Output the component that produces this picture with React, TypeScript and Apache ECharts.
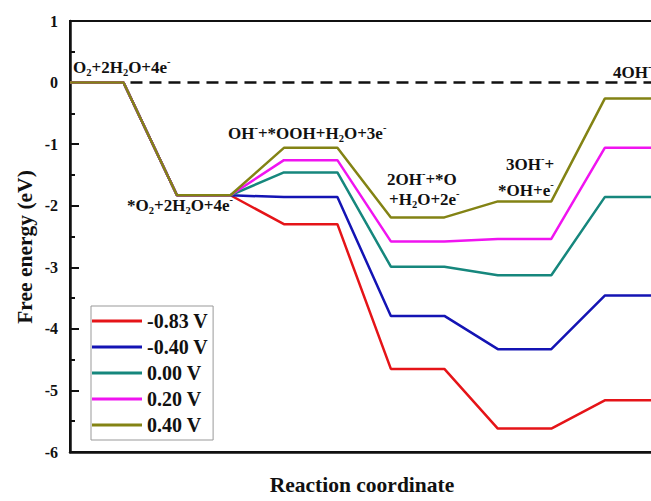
import React, { useEffect, useRef } from "react";
import * as echarts from "echarts";

// Reaction coordinate: each state is a horizontal level from levelStart to levelEnd
const levelStart = [0, 2, 4, 6, 8, 10];
const levelEnd = [1, 3, 5, 7, 9, 12];

const seriesNames = ["-0.83 V", "-0.40 V", "0.00 V", "0.20 V", "0.40 V"];
const valsM083 = [0, -1.83, -2.3, -4.65, -5.62, -5.16];
const valsM040 = [0, -1.83, -1.86, -3.79, -4.33, -3.46];
const vals000 = [0, -1.83, -1.46, -2.99, -3.13, -1.86];
const vals020 = [0, -1.83, -1.26, -2.58, -2.54, -1.06];
const vals040 = [0, -1.83, -1.06, -2.19, -1.93, -0.26];
const seriesColors = ["#e51418", "#1414b4", "#16877d", "#f014f0", "#838314"];

const zeroLine = [
  [1, 0],
  [12, 0],
];

const yTicks = { min: -6, max: 1, interval: 1 };
const yAxisTitle = "Free energy (eV)";
const xAxisTitle = "Reaction coordinate";

// State labels (rich text markup: s = subscript, p = superscript)
const stateLabels = [
  { text: "{b|O}{s|2}{b|+2H}{s|2}{b|O+4e}{p|-}", x: 73, y: 56 },
  { text: "{b|*O}{s|2}{b|+2H}{s|2}{b|O+4e}{p|-}", x: 127, y: 194 },
  { text: "{b|OH}{p|-}{b|+*OOH+H}{s|2}{b|O+3e}{p|-}", x: 228, y: 122 },
  { text: "{b|2OH}{p|-}{b|+*O}", x: 387, y: 168 },
  { text: "{b|+H}{s|2}{b|O+2e}{p|-}", x: 389, y: 188 },
  { text: "{b|3OH}{p|-}{b|+}", x: 506, y: 153 },
  { text: "{b|*OH+e}{p|-}", x: 498, y: 179 },
  { text: "{b|4OH}{p|-}", x: 613, y: 61 },
];

const FONT = "'Liberation Serif', 'Times New Roman', serif";

export default function App() {
  const ref = useRef<HTMLDivElement>(null);
  useEffect(() => {
    if (!ref.current) return;
    const chart = echarts.init(ref.current, null, { renderer: "svg" });
    const allVals = [valsM083, valsM040, vals000, vals020, vals040];
    const rich = {
      b: { fontFamily: FONT, fontWeight: "bold", fontSize: 17, lineHeight: 22, verticalAlign: "middle", fill: "#111", color: "#111" },
      s: { fontFamily: FONT, fontWeight: "bold", fontSize: 10.5, lineHeight: 10, verticalAlign: "bottom", fill: "#111", color: "#111" },
      p: { fontFamily: FONT, fontWeight: "bold", fontSize: 10.5, lineHeight: 10, verticalAlign: "top", fill: "#111", color: "#111" },
    };
    const series: any[] = allVals.map((vals, i) => ({
      name: seriesNames[i],
      type: "line",
      symbol: "none",
      color: seriesColors[i],
      lineStyle: { width: 2.5, color: seriesColors[i] },
      data: vals.flatMap((v, k) => [
        [levelStart[k], v],
        [levelEnd[k], v],
      ]),
      z: 3 + i,
    }));
    series.push({
      name: "zero",
      type: "line",
      symbol: "none",
      lineStyle: { width: 2.5, color: "#111", type: [12, 7], dashOffset: 12 },
      data: zeroLine,
      z: 2,
    });
    const graphics: any[] = stateLabels.map((l) => ({
      type: "text",
      x: l.x,
      y: l.y,
      z: 100,
      style: {
        text: l.text,
        rich,
        align: "left",
        verticalAlign: "top",
        font: `bold 17px ${FONT}`,
        fill: "#111",
      },
    }));
    graphics.push({
      type: "text",
      x: 25,
      y: 247,
      rotation: Math.PI / 2,
      z: 100,
      style: {
        text: yAxisTitle,
        align: "center",
        verticalAlign: "middle",
        font: `bold 21.5px ${FONT}`,
        fill: "#111",
      },
    });
    chart.setOption({
      animation: false,
      grid: {
        left: 70,
        top: 21,
        bottom: 44,
        right: 5,
        show: true,
        borderColor: "#111",
        borderWidth: 2,
        backgroundColor: "transparent",
      },
      xAxis: {
        type: "value",
        min: 0,
        max: 11.5,
        axisLine: { show: true, onZero: false, lineStyle: { color: "#111", width: 2.5 } },
        axisTick: { show: false },
        axisLabel: { show: false },
        splitLine: { show: false },
        name: xAxisTitle,
        nameLocation: "middle",
        nameGap: 22,
        nameTextStyle: {
          fontFamily: FONT,
          fontWeight: "bold",
          fontSize: 21.5,
          color: "#111",
          padding: [0, 31, 0, 0],
        },
      },
      yAxis: {
        type: "value",
        min: yTicks.min,
        max: yTicks.max,
        interval: yTicks.interval,
        axisLine: { show: true, lineStyle: { color: "#111", width: 2.5 } },
        axisTick: { show: true, inside: true, length: 9, lineStyle: { color: "#111", width: 2 } },
        minorTick: { show: true, splitNumber: 2, length: 5, lineStyle: { color: "#111", width: 2 } },
        axisLabel: {
          fontFamily: FONT,
          fontWeight: "bold",
          fontSize: 16,
          color: "#111",
          margin: 12,
        },
        splitLine: { show: false },
      },
      legend: {
        data: seriesNames,
        orient: "vertical",
        left: 91,
        top: 306,
        padding: [5, 5, 5, 1],
        itemWidth: 50,
        itemHeight: 3,
        itemGap: 6,
        icon: "rect",
        borderColor: "#999",
        borderWidth: 1,
        backgroundColor: "#fff",
        textStyle: {
          fontFamily: FONT,
          fontWeight: "bold",
          fontSize: 20,
          lineHeight: 20,
          color: "#111",
        },
      },
      graphic: graphics,
      series,
    });
    return () => chart.dispose();
  }, []);
  return (
    <div
      ref={ref}
      style={{ position: "fixed", left: 0, top: 0, width: 690, height: 501, background: "#fff" }}
    />
  );
}
